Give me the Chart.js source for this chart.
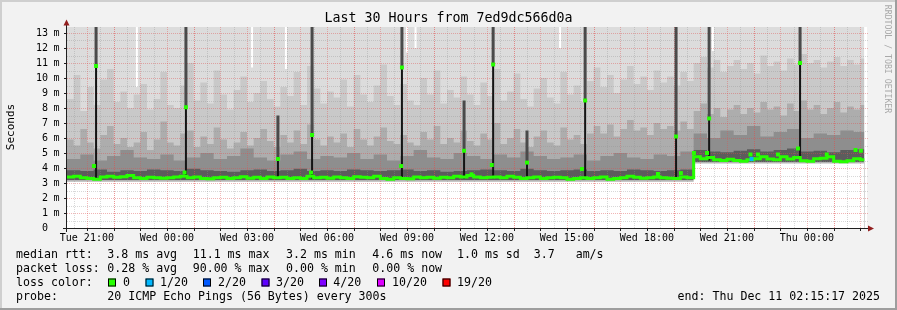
<!DOCTYPE html>
<html>
<head>
<meta charset="utf-8">
<script src="https://cdn.jsdelivr.net/npm/chart.js@4.4.1/dist/chart.umd.min.js"></script>
<style>
html, body { margin: 0; padding: 0; background: #f2f2f2; }
canvas { display: block; }
</style>
</head>
<body>
<canvas id="smoke" width="897" height="310"></canvas>
<script>
// x = hours since window start (Tue 20:15:17), 30 hours shown, y = milliseconds
var dataEnd = 29.9;

// median rtt, one value every 15 min
var medianRtt = [
  3.40, 3.45, 3.35, 3.30, 3.25, 3.40, 3.45, 3.38, 3.42, 3.50,
  3.35, 3.30, 3.38, 3.35, 3.32, 3.35, 3.40, 3.45, 3.35, 3.40,
  3.30, 3.28, 3.35, 3.38, 3.30, 3.35, 3.42, 3.32, 3.38, 3.30,
  3.40, 3.35, 3.38, 3.30, 3.35, 3.30, 3.45, 3.35, 3.38, 3.32,
  3.40, 3.35, 3.30, 3.42, 3.38, 3.35, 3.45, 3.30, 3.25, 3.35,
  3.30, 3.28, 3.40, 3.35, 3.38, 3.32, 3.38, 3.35, 3.45, 3.40,
  3.50, 3.40, 3.35, 3.38, 3.40, 3.35, 3.45, 3.38, 3.30, 3.35,
  3.40, 3.30, 3.35, 3.38, 3.35, 3.25, 3.30, 3.35, 3.30, 3.35,
  3.40, 3.25, 3.30, 3.35, 3.45, 3.38, 3.32, 3.35, 3.40, 3.35,
  3.32, 3.30, 3.40, 3.35, 4.75, 4.62, 4.70, 4.55, 4.50, 4.58,
  4.50, 4.45, 4.55, 4.62, 4.75, 4.60, 4.55, 4.75, 4.60, 4.70,
  4.48, 4.45, 4.62, 4.65, 4.75, 4.45, 4.42, 4.48, 4.62, 4.55
];

// smoke bands (upper edge of each gray shade), dark to light
var smokeInner = [ // every 30 min
  3.85, 3.80, 3.90, 3.75, 3.85, 3.80, 3.90, 3.85, 3.80, 3.95,
  3.85, 3.80, 3.75, 3.85, 3.90, 3.80, 3.85, 3.95, 3.80, 3.85,
  3.80, 3.90, 3.85, 3.80, 3.85, 3.90, 3.80, 3.85, 3.75, 3.80,
  3.85, 3.90, 3.85, 3.80, 3.95, 3.85, 3.80, 3.85, 3.90, 3.80,
  3.85, 3.80, 3.90, 3.85, 3.80, 3.85, 3.90, 5.20, 5.10, 5.05,
  5.15, 5.25, 5.10, 5.20, 5.30, 5.10, 5.15, 5.05, 5.20, 5.25
];
var smokeMid = [ // every 30 min
  4.60, 4.90, 4.50, 4.80, 5.20, 4.70, 4.60, 4.90, 4.50, 4.70,
  5.00, 4.60, 4.80, 5.30, 4.70, 4.50, 4.90, 5.10, 4.60, 4.80,
  4.70, 5.00, 4.60, 4.90, 4.50, 4.80, 5.20, 4.70, 4.60, 5.00,
  4.80, 4.60, 4.90, 4.70, 5.10, 4.80, 4.60, 4.70, 4.90, 4.50,
  4.80, 5.00, 4.70, 4.60, 4.90, 4.80, 5.10, 6.30, 6.00, 6.50,
  6.20, 6.80, 6.10, 6.40, 6.60, 6.00, 6.30, 6.20, 6.50, 6.40
];
var smokeOuter = [ // every 15 min
  5.9, 5.5, 6.6, 5.7, 5.3, 6.2, 6.8, 5.6, 6.0, 5.4,
  5.7, 6.4, 5.2, 5.9, 7.1, 5.7, 5.5, 6.3, 6.5, 5.4,
  6.1, 5.6, 6.7, 5.9, 5.3, 5.7, 6.4, 5.5, 6.0, 6.6,
  5.8, 5.4, 6.2, 5.7, 6.5, 5.6, 6.9, 5.9, 5.5, 6.1,
  5.7, 6.3, 5.4, 6.6, 5.9, 5.5, 6.1, 6.7, 5.8, 5.6,
  6.2, 5.7, 5.5, 6.4, 5.9, 6.8, 5.6, 6.0, 5.7, 6.5,
  5.8, 5.5, 6.3, 5.9, 7.0, 5.6, 6.0, 6.6, 5.7, 5.4,
  6.1, 6.5, 5.7, 5.5, 6.7, 5.9, 6.2, 5.6, 6.3, 6.8,
  6.3, 6.9, 6.1, 6.6, 7.2, 6.5, 6.7, 6.2, 7.0, 6.6,
  6.8, 6.5, 7.1, 6.6, 7.8, 8.3, 7.6, 8.0, 7.4, 7.9,
  8.2, 7.6, 8.0, 7.7, 8.4, 7.9, 8.1, 7.5, 8.3, 7.8,
  8.5, 7.9, 8.2, 7.6, 8.0, 8.4, 7.7, 8.1, 7.9, 8.2
];
var smokeFar = [ // every 15 min
  8.6, 10.2, 7.8, 9.4, 8.2, 9.9, 10.6, 8.4, 9.1, 8.0,
  8.9, 9.6, 7.9, 8.6, 10.4, 8.2, 8.0, 9.5, 11.0, 8.5,
  9.7, 8.3, 10.5, 8.9, 7.9, 9.2, 10.1, 8.4, 9.0, 9.8,
  8.6, 8.1, 9.4, 8.8, 10.4, 8.2, 10.8, 9.3, 8.3, 9.1,
  8.7, 9.9, 8.1, 10.2, 8.9, 8.4, 9.5, 10.9, 8.8, 8.2,
  9.6, 8.5, 8.2, 10.0, 8.9, 10.5, 8.3, 9.2, 8.7, 10.1,
  8.9, 8.2, 9.7, 8.8, 10.6, 8.5, 9.1, 10.3, 8.6, 8.1,
  9.3, 10.0, 8.7, 8.3, 10.4, 8.9, 9.5, 8.4, 9.8, 10.7,
  9.4, 10.2, 9.0, 9.9, 10.8, 9.6, 10.1, 9.2, 10.5, 9.7,
  10.1, 9.5, 10.4, 9.8, 11.0, 11.4, 10.7, 11.2, 10.4, 10.8,
  11.2, 10.6, 11.0, 10.3, 11.5, 10.8, 11.1, 10.5, 11.3, 10.9,
  11.6, 11.0, 11.2, 10.7, 11.1, 11.4, 10.8, 11.2, 10.9, 11.3
];
var smokeMax = [ // every hour
  13.4, 13.4, 13.4, 13.4, 13.4, 13.4, 13.4, 13.4, 13.4, 13.4,
  13.4, 13.4, 13.4, 13.4, 13.4, 13.4, 13.4, 13.4, 13.4, 13.4,
  13.4, 13.4, 13.4, 13.4, 13.4, 13.4, 13.4, 13.4, 13.4, 13.4
];
var smokeLow = [ // lower fringe, every 30 min
  3.20, 3.20, 3.20, 3.20, 3.20, 3.20, 3.20, 3.20, 3.20, 3.20,
  3.20, 3.20, 3.20, 3.20, 3.20, 3.20, 3.20, 3.20, 3.20, 3.20,
  3.20, 3.20, 3.20, 3.20, 3.20, 3.20, 3.20, 3.20, 3.20, 3.20,
  3.20, 3.20, 3.20, 3.20, 3.20, 3.20, 3.20, 3.20, 3.20, 3.20,
  3.20, 3.20, 3.20, 3.20, 3.20, 3.20, 3.20, 4.40, 4.40, 4.40,
  4.40, 4.40, 4.40, 4.40, 4.40, 4.40, 4.40, 4.40, 4.40, 4.40
];
var smokeFloor = [ // fastest ping, every 30 min
  3.08, 3.08, 3.08, 3.08, 3.08, 3.08, 3.08, 3.08, 3.08, 3.08,
  3.08, 3.08, 3.08, 3.08, 3.08, 3.08, 3.08, 3.08, 3.08, 3.08,
  3.08, 3.08, 3.08, 3.08, 3.08, 3.08, 3.08, 3.08, 3.08, 3.08,
  3.08, 3.08, 3.08, 3.08, 3.08, 3.08, 3.08, 3.08, 3.08, 3.08,
  3.08, 3.08, 3.08, 3.08, 3.08, 3.08, 3.08, 4.30, 4.30, 4.30,
  4.30, 4.30, 4.30, 4.30, 4.30, 4.30, 4.30, 4.30, 4.30, 4.30
];

// white gaps near the top of the smoke
var gapTime = [2.62, 6.94, 8.21, 12.75, 13.07, 18.49, 24.22];
var gapLow  = [9.4, 10.7, 10.6, 11.7, 12.0, 12.0, 11.8];

// single-sample spikes
var spikeTime   = [1.09, 4.46, 7.91, 9.19, 12.56, 14.89, 15.98, 17.25, 19.43, 22.84, 24.08, 27.49];
var spikeBase   = [3.3, 3.3, 3.3, 3.3, 3.3, 3.3, 3.3, 3.3, 3.3, 3.3, 4.5, 4.5];
var spikeMedian = [10.8, 8.05, 4.6, 6.2, 10.7, 5.15, 10.9, 4.36, 8.5, 6.1, 7.3, 11.0];
var spikeTop    = [13.4, 13.4, 7.5, 13.4, 13.4, 8.5, 13.4, 6.5, 13.4, 13.4, 13.4, 13.4];

// stray median samples off the baseline, loss index into lossColors
var dotTime  = [1.01, 4.41, 9.15, 12.53, 15.17, 15.93, 19.31, 22.16, 23.02, 23.51, 24.0, 25.63, 25.67, 25.91, 26.66, 27.41, 28.49, 29.57, 29.77];
var dotValue = [4.13, 3.7, 3.7, 4.13, 3.58, 4.2, 3.93, 3.6, 3.66, 5.0, 5.0, 4.9, 4.6, 4.9, 4.9, 5.3, 4.9, 5.2, 5.15];
var dotLoss  = [0, 0, 0, 0, 0, 0, 0, 0, 0, 0, 0, 0, 1, 0, 0, 0, 0, 0, 0];

var lossLabels = ['0', '1/20', '2/20', '3/20', '4/20', '10/20', '19/20'];
var lossColors = ['#26ff00', '#00b8ff', '#0059ff', '#5e00ff', '#7e00ff', '#dd00ff', '#ff0000'];

var yTicks = [0, 1, 2, 3, 4, 5, 6, 7, 8, 9, 10, 11, 12, 13];
var xTickHours = [0.745, 3.745, 6.745, 9.745, 12.745, 15.745, 18.745, 21.745, 24.745, 27.745];
var xTickLabels = ['Tue 21:00', 'Wed 00:00', 'Wed 03:00', 'Wed 06:00', 'Wed 09:00',
                   'Wed 12:00', 'Wed 15:00', 'Wed 18:00', 'Wed 21:00', 'Thu 00:00'];

var rttStats  = ['3.8 ms avg', '11.1 ms max', '3.2 ms min', '4.6 ms now', '1.0 ms sd  3.7   am/s'];
var lossStats = ['0.28 % avg', '90.00 % max', '0.00 % min', '0.00 % now'];
var probeText = '20 ICMP Echo Pings (56 Bytes) every 300s';
var endText = 'end: Thu Dec 11 02:15:17 2025';

var MONO = '"DejaVu Sans Mono", monospace';

function series(values, step) {
  var pts = values.map(function (v, i) { return { x: i * step, y: v }; });
  pts.push({ x: dataEnd, y: values[values.length - 1] });
  return pts;
}

function band(label, values, step, color, order) {
  return {
    label: label, data: series(values, step), stepped: true, fill: 'origin',
    backgroundColor: color, borderColor: 'rgba(0,0,0,0)', borderWidth: 0,
    pointRadius: 0, order: order
  };
}

function columns(times, lows, highs) {
  var pts = [];
  times.forEach(function (t, i) {
    pts.push({ x: t, y: lows[i] }, { x: t, y: highs[i] }, { x: t, y: null });
  });
  return pts;
}

var topRow = gapTime.map(function () { return 13.4; });

var datasets = [
  band('max', smokeMax, 1, '#dcdcdc', 20),
  band('far', smokeFar, 0.25, '#c9c9c9', 19),
  band('outer', smokeOuter, 0.25, '#adadad', 18),
  band('mid', smokeMid, 0.5, '#8e8e8e', 17),
  band('inner', smokeInner, 0.5, '#5c5c5c', 16),
  band('low', smokeLow, 0.5, '#b4b4b4', 15),
  band('floor', smokeFloor, 0.5, '#ffffff', 14),
  { label: 'gaps', data: columns(gapTime, gapLow, topRow), borderColor: '#ffffff',
    borderWidth: 2, pointRadius: 0, spanGaps: false, fill: false, order: 13 },
  { label: 'spikeTop', data: columns(spikeTime, spikeMedian, spikeTop), borderColor: '#4a4a4a',
    borderWidth: 3, pointRadius: 0, spanGaps: false, fill: false, order: 12 },
  { label: 'spikeCore', data: columns(spikeTime, spikeBase, spikeMedian), borderColor: '#141414',
    borderWidth: 2, pointRadius: 0, spanGaps: false, fill: false, order: 11 },
  { label: 'median', data: series(medianRtt, 0.25), stepped: true, borderColor: lossColors[0],
    borderWidth: 3, pointRadius: 0, fill: false, order: 10 },
  { label: 'spikeDots', data: spikeTime.map(function (t, i) { return { x: t, y: spikeMedian[i] }; }),
    showLine: false, pointStyle: 'rect', pointRadius: 2.8, pointBorderWidth: 0,
    pointBackgroundColor: lossColors[0], order: 9 },
  { label: 'dots', data: dotTime.map(function (t, i) { return { x: t, y: dotValue[i] }; }),
    showLine: false, pointStyle: 'rect', pointRadius: 2.8, pointBorderWidth: 0,
    pointBackgroundColor: dotLoss.map(function (l) { return lossColors[l]; }), order: 8 }
];

function drawGrid(chart) {
  var ctx = chart.ctx, a = chart.chartArea;
  var xs = chart.scales.x, ys = chart.scales.y;
  ctx.save();
  ctx.lineWidth = 1;
  ctx.setLineDash([1, 1]);
  // half-hour and half-ms minor lines
  ctx.strokeStyle = 'rgba(143,143,143,0.35)';
  for (var h = 0.245; h < 30; h += 1) {
    var px = Math.round(xs.getPixelForValue(h)) + 0.5;
    ctx.beginPath(); ctx.moveTo(px, a.bottom); ctx.lineTo(px, a.top); ctx.stroke();
  }
  for (var v = 0.5; v < 13.4; v += 1) {
    var py = Math.round(ys.getPixelForValue(v)) + 0.5;
    ctx.beginPath(); ctx.moveTo(a.left, py); ctx.lineTo(a.right + 2, py); ctx.stroke();
  }
  // hour and ms major lines
  for (var k = 0; k < 30; k++) {
    var qx = Math.round(xs.getPixelForValue(0.745 + k)) + 0.5;
    ctx.strokeStyle = (k % 3 === 1) ? 'rgba(222,79,79,0.6)' : 'rgba(222,79,79,0.4)';
    ctx.beginPath(); ctx.moveTo(qx, a.bottom); ctx.lineTo(qx, a.top); ctx.stroke();
  }
  ctx.strokeStyle = 'rgba(222,79,79,0.42)';
  for (var m = 1; m <= 13; m++) {
    var qy = Math.round(ys.getPixelForValue(m)) + 0.5;
    ctx.beginPath(); ctx.moveTo(a.left, qy); ctx.lineTo(a.right + 2, qy); ctx.stroke();
  }
  ctx.restore();
}

var rrdFrame = {
  id: 'rrdFrame',
  beforeDraw: function (chart) {
    var ctx = chart.ctx, a = chart.chartArea, w = chart.width, h = chart.height;
    ctx.save();
    ctx.fillStyle = '#f2f2f2';
    ctx.fillRect(0, 0, w, h);
    ctx.fillStyle = '#cfcfcf';
    ctx.fillRect(0, 0, w, 2);
    ctx.fillRect(0, 0, 2, h);
    ctx.fillStyle = '#9e9e9e';
    ctx.fillRect(0, h - 2, w, 2);
    ctx.fillRect(w - 2, 0, 2, h);
    ctx.fillStyle = '#ffffff';
    ctx.fillRect(a.left, a.top, a.right - a.left, a.bottom - a.top);
    ctx.restore();
  },
  afterDatasetDraw: function (chart, args) {
    if (chart.data.datasets[args.index].label === 'gaps') drawGrid(chart);
  },
  afterDraw: function (chart) {
    var ctx = chart.ctx, a = chart.chartArea;
    var xs = chart.scales.x, ys = chart.scales.y;
    ctx.save();
    // axes
    ctx.strokeStyle = '#1f1f1f';
    ctx.lineWidth = 1;
    ctx.beginPath();
    ctx.moveTo(63, a.bottom + 0.5); ctx.lineTo(869, a.bottom + 0.5);
    ctx.moveTo(a.left - 0.5, a.bottom + 4); ctx.lineTo(a.left - 0.5, 24);
    ctx.stroke();
    ctx.beginPath();
    for (var k = 0; k < 30; k++) {
      var tx = Math.round(xs.getPixelForValue(0.745 + k)) + 0.5;
      ctx.moveTo(tx, a.bottom + 1); ctx.lineTo(tx, a.bottom + 3);
    }
    yTicks.forEach(function (v) {
      var ty = Math.round(ys.getPixelForValue(v)) + 0.5;
      ctx.moveTo(a.left - 3, ty); ctx.lineTo(a.left - 1, ty);
    });
    ctx.stroke();
    // arrows
    ctx.fillStyle = '#921f1f';
    ctx.beginPath();
    ctx.moveTo(a.left - 0.5, 19.5); ctx.lineTo(a.left + 2.5, 25.5); ctx.lineTo(a.left - 3.5, 25.5);
    ctx.closePath(); ctx.fill();
    ctx.beginPath();
    ctx.moveTo(874, a.bottom + 0.5); ctx.lineTo(868, a.bottom - 2.5); ctx.lineTo(868, a.bottom + 3.5);
    ctx.closePath(); ctx.fill();

    // tick labels
    ctx.fillStyle = '#000000';
    ctx.font = '10px ' + MONO;
    ctx.textBaseline = 'middle';
    yTicks.forEach(function (v) {
      var ty = ys.getPixelForValue(v);
      ctx.textAlign = 'right';
      ctx.fillText(String(v), 48, ty);
      if (v > 0) { ctx.textAlign = 'left'; ctx.fillText('m', 53.5, ty); }
    });
    ctx.textAlign = 'center';
    xTickHours.forEach(function (hr, i) {
      ctx.fillText(xTickLabels[i], xs.getPixelForValue(hr), 238);
    });

    // title
    ctx.font = '13.3px ' + MONO;
    ctx.fillText('Last 30 Hours from 7ed9dc566d0a', 448.5, 19);

    // vertical axis title
    ctx.save();
    ctx.font = '11px ' + MONO;
    ctx.translate(11, 127);
    ctx.rotate(-Math.PI / 2);
    ctx.fillText('Seconds', 0, 0);
    ctx.restore();

    // watermark
    ctx.save();
    ctx.font = '8.2px ' + MONO;
    ctx.fillStyle = '#a9a9a9';
    ctx.translate(887, 59);
    ctx.rotate(Math.PI / 2);
    ctx.fillText('RRDTOOL / TOBI OETIKER', 0, 0);
    ctx.restore();

    // legend
    var statX = [107.3, 192.7, 286, 372.3, 457];
    ctx.font = '11.6px ' + MONO;
    ctx.textAlign = 'left';
    ctx.fillText('median rtt:', 16, 254.5);
    rttStats.forEach(function (s, i) { ctx.fillText(s, statX[i], 254.5); });
    ctx.fillText('packet loss:', 16, 268.5);
    lossStats.forEach(function (s, i) { ctx.fillText(s, statX[i], 268.5); });
    ctx.fillText('loss color:', 16, 282.5);
    var boxX = [108, 145.5, 203, 261.5, 319, 377, 442.5];
    var labX = [123, 160, 218, 276, 333.3, 392, 457];
    lossColors.forEach(function (c, i) {
      ctx.fillStyle = c;
      ctx.fillRect(boxX[i], 278.5, 8, 8);
      ctx.strokeStyle = '#000000';
      ctx.strokeRect(boxX[i] + 0.5, 279, 7, 7);
      ctx.fillStyle = '#000000';
      ctx.fillText(lossLabels[i], labX[i], 282.5);
    });
    ctx.fillText('probe:', 16, 296.5);
    ctx.fillText(probeText, 107.3, 296.5);
    ctx.textAlign = 'right';
    ctx.fillText(endText, 880, 296.5);
    ctx.restore();
  }
};

var ctx = document.getElementById('smoke').getContext('2d');
var smokeChart = new Chart(ctx, {
  type: 'line',
  data: { datasets: datasets },
  options: {
    responsive: false,
    animation: false,
    devicePixelRatio: 1,
    layout: { padding: { left: 67, right: 30, top: 27, bottom: 82 } },
    plugins: { legend: { display: false }, tooltip: { enabled: false }, title: { display: false } },
    scales: {
      x: { type: 'linear', min: 0, max: 30, display: false },
      y: { type: 'linear', min: 0, max: 13.4, display: false }
    }
  },
  plugins: [rrdFrame]
});
</script>
</body>
</html>
